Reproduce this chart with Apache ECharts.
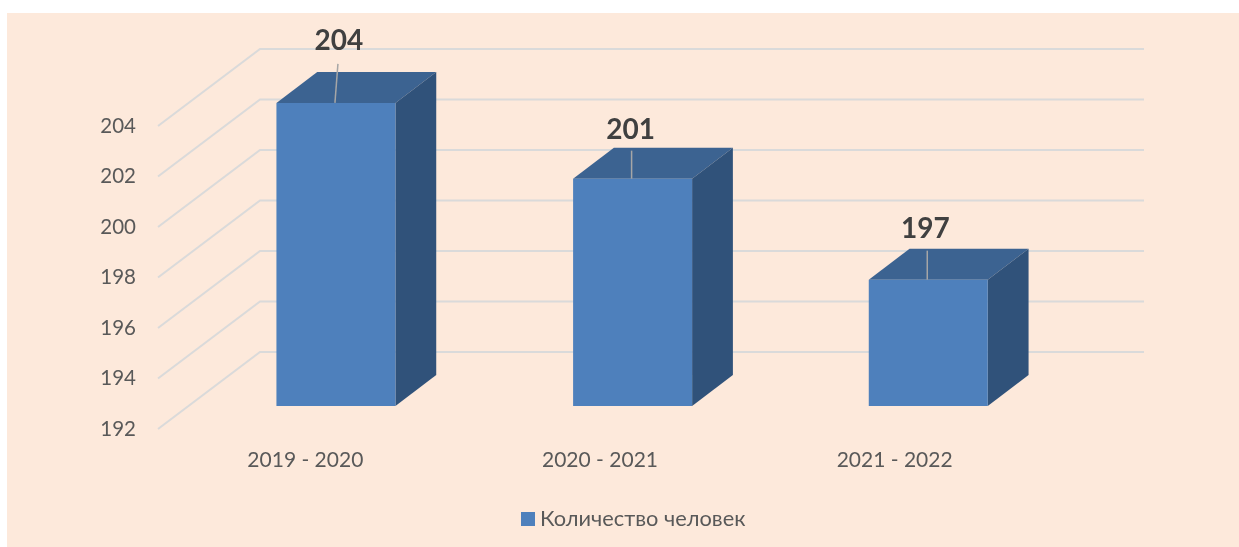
<!DOCTYPE html>
<html>
<head>
<meta charset="utf-8">
<style>
  html, body { margin: 0; padding: 0; background: #fff; }
  #chart { width: 1239px; height: 547px; }
</style>
<script src="https://cdn.jsdelivr.net/npm/echarts@6/dist/echarts.min.js"></script>
</head>
<body>
<div id="chart"></div>
<script>
const years = ['2019 - 2020', '2020 - 2021', '2021 - 2022'];
const people = [204, 201, 197];
const yTicks = [192, 194, 196, 198, 200, 202, 204];
const seriesName = 'Количество человек';

// псевдо-3D: смещение задней стенки относительно передней плоскости
const DEPTH_X = 102;
const DEPTH_Y = 77;
const BAR_NEAR = 0.3;
const BAR_FAR = 0.7;
const BAR_WIDTH = 119;
// столбцы стоят чуть шире подписей оси
const barShift = [0, 2, 3];
// подписи значений и выноски над столбцами, от верхней кромки
const labelDx = [3, -2, -3];
const labelDy = [-62, -49, -51];
const leaderDx = [3, 0, 0];
const leaderDy = [-39, -28, -29];

const FONT = 'Lato, "Noto Sans", sans-serif';

const chart = echarts.init(document.getElementById('chart'));

function renderWall(params, api) {
  const p = api.coord([0, api.value(0)]);
  const x0 = params.coordSys.x;
  const backX = x0 + DEPTH_X;
  const backY = p[1] - DEPTH_Y;
  return {
    type: 'polyline',
    shape: { points: [[x0, p[1]], [backX, backY], [backX + params.coordSys.width, backY]] },
    style: { fill: 'none', stroke: '#DADADA', lineWidth: 2 }
  };
}

function renderBar(params, api) {
  const i = api.value(0);
  const val = api.value(1);
  const top = api.coord([i, val]);
  const base = api.coord([i, yTicks[0]]);
  const xl = top[0] + DEPTH_X * BAR_NEAR - BAR_WIDTH / 2 + barShift[i];
  const xr = xl + BAR_WIDTH;
  const yt = top[1] - DEPTH_Y * BAR_NEAR;
  const yb = base[1] - DEPTH_Y * BAR_NEAR;
  const dx = DEPTH_X * (BAR_FAR - BAR_NEAR);
  const dy = DEPTH_Y * (BAR_FAR - BAR_NEAR);
  const cx = (xl + xr) / 2;
  return {
    type: 'group',
    children: [
      { type: 'polygon', shape: { points: [[xl, yt], [xl + dx, yt - dy], [xr + dx, yt - dy], [xr, yt]] }, style: { fill: '#3C6391' } },
      { type: 'polygon', shape: { points: [[xr, yt], [xr + dx, yt - dy], [xr + dx, yb - dy], [xr, yb]] }, style: { fill: '#30527A' } },
      { type: 'rect', shape: { x: xl, y: yt, width: BAR_WIDTH, height: yb - yt }, style: { fill: '#4E80BC' } },
      { type: 'line', shape: { x1: cx - 1, y1: yt, x2: cx - 1 + leaderDx[i], y2: yt + leaderDy[i] }, style: { stroke: '#A6A6A6', lineWidth: 1.5 } },
      { type: 'text', style: { text: String(val), x: cx + labelDx[i], y: yt + labelDy[i], align: 'center', verticalAlign: 'middle', font: 'bold 28px ' + FONT, fill: '#404040' } }
    ]
  };
}

chart.setOption({
  animation: false,
  graphic: [{
    type: 'rect', z: -10, silent: true,
    shape: { x: 7, y: 13, width: 1232, height: 534 },
    style: { fill: '#FDE9DB' }
  }],
  legend: {
    data: [seriesName],
    left: 516, top: 503,
    icon: 'rect', itemWidth: 14, itemHeight: 14,
    textStyle: { color: '#595959', fontSize: 21.8, fontFamily: FONT }
  },
  grid: { left: 158, top: 126, width: 884, height: 303 },
  xAxis: {
    type: 'category',
    data: years,
    axisLine: { show: false },
    axisTick: { show: false },
    axisLabel: { color: '#595959', fontSize: 21, fontFamily: FONT, margin: 21 }
  },
  yAxis: {
    type: 'value',
    min: 192, max: 204, interval: 2,
    axisLine: { show: false },
    axisTick: { show: false },
    splitLine: { show: false },
    axisLabel: { color: '#595959', fontSize: 20.5, fontFamily: FONT, margin: 22 }
  },
  series: [
    {
      type: 'custom', name: 'grid', z: 1, silent: true, clip: false,
      renderItem: renderWall,
      encode: { y: 0 },
      data: yTicks.map(v => [v])
    },
    {
      type: 'custom', name: seriesName, z: 3, clip: false,
      itemStyle: { color: '#4E80BC' },
      renderItem: renderBar,
      encode: { x: 0, y: 1 },
      data: people.map((v, i) => [i, v])
    }
  ]
});
</script>
</body>
</html>
